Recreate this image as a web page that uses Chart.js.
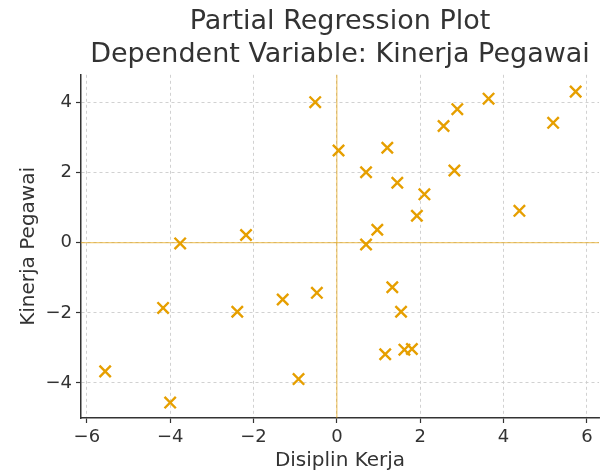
<!DOCTYPE html>
<html>
<head>
<meta charset="utf-8">
<script src="https://cdn.jsdelivr.net/npm/chart.js@4/dist/chart.umd.min.js"></script>
<style>
  body { margin: 0; background: #fff; }
  #wrap { width: 603px; height: 473px; }
</style>
</head>
<body>
<div id="wrap"><canvas id="chart" width="603" height="473"></canvas></div>
<script>
// Residuals (Disiplin Kerja vs Kinerja Pegawai)
const disiplinKerja = [-3.76, -2.18, -0.52, 0.04, 0.70, 1.21, 1.45, 2.10, 1.92, 0.97,
                       0.70, 2.56, 2.89, 3.64, 2.82, 4.38, 5.19, 5.73, -5.56, -4.17,
                       -4.00, -2.39, -1.30, -0.92, -0.48, 1.33, 1.54, 1.16, 1.62, 1.80];
const kinerjaPegawai = [-0.02, 0.22, 4.01, 2.63, 2.01, 2.71, 1.71, 1.38, 0.77, 0.37,
                        -0.05, 3.33, 3.81, 4.11, 2.06, 0.91, 3.42, 4.31, -3.67, -1.86,
                        -4.56, -1.97, -1.62, -3.89, -1.43, -1.27, -1.97, -3.18, -3.05, -3.03];
const titleLines = ['Partial Regression Plot', 'Dependent Variable: Kinerja Pegawai'];
const xLabel = 'Disiplin Kerja';
const yLabel = 'Kinerja Pegawai';

const orange = '#E69F00';
const ink = '#333333';
const font = 'DejaVu Sans';

const points = disiplinKerja.map((x, i) => ({ x: x, y: kinerjaPegawai[i] }));

// draws the x=0 and y=0 reference lines through the scales
const zeroLines = {
    id: 'zeroLines',
    beforeDatasetsDraw(chart) {
        const { ctx, chartArea, scales } = chart;
        const x0 = scales.x.getPixelForValue(0);
        const y0 = scales.y.getPixelForValue(0);
        ctx.save();
        ctx.strokeStyle = 'rgba(230, 159, 0, 0.7)';
        ctx.lineWidth = 1;
        ctx.beginPath();
        ctx.moveTo(x0, chartArea.top);
        ctx.lineTo(x0, chartArea.bottom);
        ctx.moveTo(chartArea.left, y0);
        ctx.lineTo(chartArea.right, y0);
        ctx.stroke();
        ctx.restore();
    }
};

const axisCommon = {
    type: 'linear',
    grid: {
        color: '#cccccc',
        lineWidth: 0.9,
        drawTicks: true,
        tickLength: 5,
        tickColor: ink,
        tickWidth: 1.2,
        tickBorderDash: []
    },
    border: { display: true, color: ink, width: 1.5, dash: [3, 3] }
};

const tickFont = { family: font, size: 18 };
const minusSign = v => String(v).replace('-', '\u2212');

new Chart(document.getElementById('chart'), {
    type: 'scatter',
    data: {
        datasets: [{
            data: points,
            pointStyle: 'crossRot',
            radius: 8,
            hoverRadius: 8,
            borderWidth: 2.4,
            borderColor: orange,
            backgroundColor: orange
        }]
    },
    options: {
        responsive: false,
        animation: false,
        // no extra room for the markers, the chart area is pinned below
        layout: { autoPadding: false, padding: { left: 0, right: 4, top: 0, bottom: 0 } },
        plugins: {
            legend: { display: false },
            tooltip: { enabled: false },
            title: {
                display: true,
                fullSize: false,
                text: titleLines,
                color: ink,
                font: { family: font, size: 27, weight: 'normal', lineHeight: 1.2 },
                padding: { top: 6, bottom: 4 }
            }
        },
        scales: {
            x: {
                ...axisCommon,
                min: -6.14,
                max: 6.29,
                ticks: {
                    stepSize: 2,
                    includeBounds: false,
                    color: ink,
                    padding: 4,
                    maxRotation: 0,
                    font: tickFont,
                    callback: minusSign
                },
                title: {
                    display: true,
                    text: xLabel,
                    color: ink,
                    font: { family: font, size: 20 },
                    padding: { top: 0, bottom: 0 }
                },
                afterFit: scale => {
                    scale.height = 55;
                    scale.paddingLeft = 0;
                    scale.paddingRight = 0;
                }
            },
            y: {
                ...axisCommon,
                min: -5.0,
                max: 4.79,
                ticks: {
                    stepSize: 2,
                    includeBounds: false,
                    color: ink,
                    padding: 4,
                    font: tickFont,
                    callback: minusSign
                },
                title: {
                    display: true,
                    text: yLabel,
                    color: ink,
                    font: { family: font, size: 20 },
                    padding: { top: 17, bottom: 0 }
                },
                afterFit: scale => { scale.width = 81; }
            }
        }
    },
    plugins: [zeroLines]
});
</script>
</body>
</html>
